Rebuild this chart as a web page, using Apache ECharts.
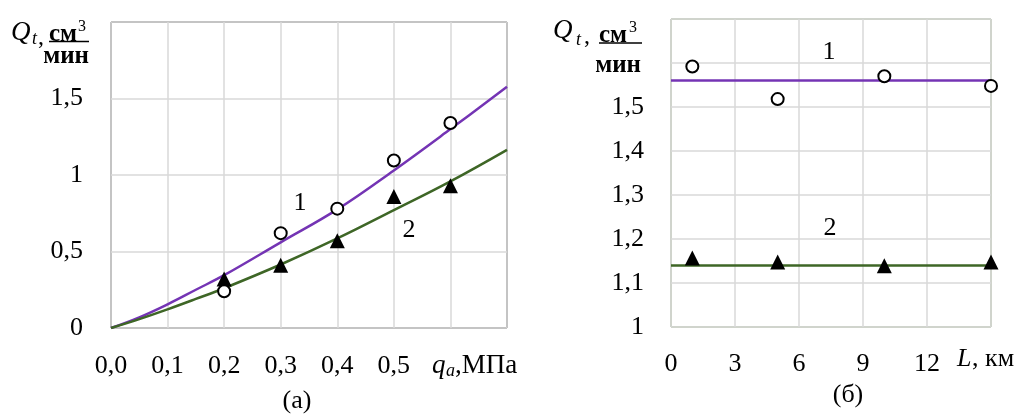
<!DOCTYPE html>
<html>
<head>
<meta charset="utf-8">
<script src="https://cdn.jsdelivr.net/npm/echarts@6/dist/echarts.min.js"></script>
<style>
  html, body { margin: 0; padding: 0; background: #fff; }
  #chart { width: 1022px; height: 417px; }
</style>
</head>
<body>
<div id="chart"></div>
<script>
// (а) flow vs pressure
const pressureCurve = [0, 0.05, 0.1, 0.15, 0.2, 0.3, 0.4, 0.5, 0.6, 0.7]
const curve1Q = [0, 0.07, 0.155, 0.25, 0.345, 0.56, 0.775, 1.03, 1.3, 1.577]
const curve2Q = [0, 0.058, 0.122, 0.19, 0.26, 0.415, 0.585, 0.77, 0.958, 1.164]
const pressurePoints = [0.2, 0.3, 0.4, 0.5, 0.6]
const points1Q = [0.24, 0.62, 0.78, 1.095, 1.34]
const points2Q = [0.32, 0.41, 0.57, 0.86, 0.93]

// (б) flow vs length
const lengthLine = [0, 15]
const line1Q = [1.56, 1.56]
const line2Q = [1.14, 1.14]
const lengthPoints = [1, 5, 10, 15]
const lenPoints1Q = [1.592, 1.518, 1.57, 1.548]
const lenPoints2Q = [1.157, 1.148, 1.139, 1.148]

const FONT = 'Liberation Serif'
const PURPLE = '#7434b4'
const GREEN = '#3e6626'

const zip = (xs, ys) => xs.map((x, i) => [x, ys[i]])
const comma = v => String(v).replace('.', ',')

function txt(x, y, text, opts = {}) {
  return {
    type: 'text',
    x,
    y,
    style: {
      text,
      fontFamily: FONT,
      fontSize: opts.size || 26,
      fontStyle: opts.italic ? 'italic' : 'normal',
      fontWeight: opts.bold ? 'bold' : 'normal',
      fill: '#000',
      align: opts.align || 'left',
      verticalAlign: 'middle',
    },
  }
}
function rule(x1, x2, y) {
  return { type: 'line', shape: { x1, y1: y, x2, y2: y }, style: { stroke: '#000', lineWidth: 1.3 } }
}

const axisLabel = { fontFamily: FONT, fontSize: 26, color: '#000' }
const splitLine = { show: true, lineStyle: { color: '#d9d9d9', width: 1.5 } }
const circleStyle = { color: '#fff', borderColor: '#000', borderWidth: 2, opacity: 1 }
const triangleStyle = { color: '#000', opacity: 1 }

const myChart = echarts.init(document.getElementById('chart'))
const option = {
  backgroundColor: '#fff',
  animation: false,
  grid: [
    { left: 111, top: 22, width: 396, height: 306, show: true, borderColor: '#111', borderWidth: 1, outerBoundsMode: 'none' },
    { left: 671, top: 19, width: 320, height: 308, show: true, borderColor: '#6f8f55', borderWidth: 1, outerBoundsMode: 'none' },
  ],
  xAxis: [
    {
      type: 'value', gridIndex: 0, min: 0, max: 0.7, interval: 0.1,
      axisLine: { show: false }, axisTick: { show: false }, splitLine,
      axisLabel: { ...axisLabel, margin: 25, formatter: v => (v > 0.55 ? '' : v.toFixed(1).replace('.', ',')) },
    },
    {
      type: 'value', gridIndex: 1, min: 0, max: 15, interval: 3,
      axisLine: { show: false }, axisTick: { show: false }, splitLine,
      axisLabel: { ...axisLabel, margin: 24, formatter: v => (v > 13 ? '' : String(v)) },
    },
  ],
  yAxis: [
    {
      type: 'value', gridIndex: 0, min: 0, max: 2, interval: 0.5,
      axisLine: { show: false }, axisTick: { show: false }, splitLine,
      axisLabel: { ...axisLabel, margin: 28, formatter: v => (v > 1.9 ? '' : comma(v)) },
    },
    {
      type: 'value', gridIndex: 1, min: 1, max: 1.7, interval: 0.1,
      axisLine: { show: false }, axisTick: { show: false }, splitLine,
      axisLabel: { ...axisLabel, margin: 27, formatter: v => (v > 1.55 ? '' : comma(+v.toFixed(1))) },
    },
  ],
  series: [
    {
      type: 'line', xAxisIndex: 0, yAxisIndex: 0, data: zip(pressureCurve, curve1Q),
      smooth: 0.4, showSymbol: false, lineStyle: { color: PURPLE, width: 2.5 }, z: 2,
    },
    {
      type: 'line', xAxisIndex: 0, yAxisIndex: 0, data: zip(pressureCurve, curve2Q),
      smooth: 0.4, showSymbol: false, lineStyle: { color: GREEN, width: 2.5 }, z: 2,
    },
    {
      type: 'scatter', xAxisIndex: 0, yAxisIndex: 0, data: zip(pressurePoints, points2Q),
      symbol: 'triangle', symbolSize: 15, itemStyle: triangleStyle, clip: false, z: 3,
    },
    {
      type: 'scatter', xAxisIndex: 0, yAxisIndex: 0, data: zip(pressurePoints, points1Q),
      symbol: 'circle', symbolSize: 12, itemStyle: circleStyle, clip: false, z: 4,
    },
    {
      type: 'line', xAxisIndex: 1, yAxisIndex: 1, data: zip(lengthLine, line1Q),
      showSymbol: false, lineStyle: { color: PURPLE, width: 2.5 }, z: 2,
    },
    {
      type: 'line', xAxisIndex: 1, yAxisIndex: 1, data: zip(lengthLine, line2Q),
      showSymbol: false, lineStyle: { color: GREEN, width: 2.5 }, z: 2,
    },
    {
      type: 'scatter', xAxisIndex: 1, yAxisIndex: 1, data: zip(lengthPoints, lenPoints2Q),
      symbol: 'triangle', symbolSize: 15, itemStyle: triangleStyle, clip: false, z: 3,
    },
    {
      type: 'scatter', xAxisIndex: 1, yAxisIndex: 1, data: zip(lengthPoints, lenPoints1Q),
      symbol: 'circle', symbolSize: 12, itemStyle: circleStyle, clip: false, z: 4,
    },
  ],
  graphic: [
    // left y title
    txt(11, 33, 'Q', { italic: true, size: 27 }),
    txt(32, 39, 't', { italic: true, size: 18 }),
    txt(38, 38, ',', { size: 24 }),
    txt(49, 35, 'см', { bold: true, size: 25 }),
    txt(78, 27, '3', { size: 16 }),
    rule(49, 89, 41.5),
    txt(89, 57, 'мин', { bold: true, size: 25, align: 'right' }),
    // left x name
    txt(432, 366, 'q', { italic: true, size: 27 }),
    txt(446, 371, 'a', { italic: true, size: 18 }),
    txt(455, 366, ',МПа', { size: 27 }),
    // curve numbers
    txt(300, 203, '1', { align: 'center' }),
    txt(409, 230, '2', { align: 'center' }),
    txt(297, 401, '(а)', { align: 'center' }),
    // right y title
    txt(553, 31, 'Q', { italic: true, size: 27 }),
    txt(576, 40, 't', { italic: true, size: 18 }),
    txt(584, 37, ',', { size: 24 }),
    txt(599, 36, 'см', { bold: true, size: 25 }),
    txt(629, 28, '3', { size: 16 }),
    rule(599, 642, 43),
    txt(641, 66, 'мин', { bold: true, size: 25, align: 'right' }),
    // right x name
    txt(957, 359, 'L', { italic: true, size: 26 }),
    txt(972, 359, ', км', { size: 26 }),
    txt(829, 52, '1', { align: 'center' }),
    txt(830, 228, '2', { align: 'center' }),
    txt(848, 395, '(б)', { align: 'center' }),
  ],
}
myChart.setOption(option, true)
</script>
</body>
</html>
